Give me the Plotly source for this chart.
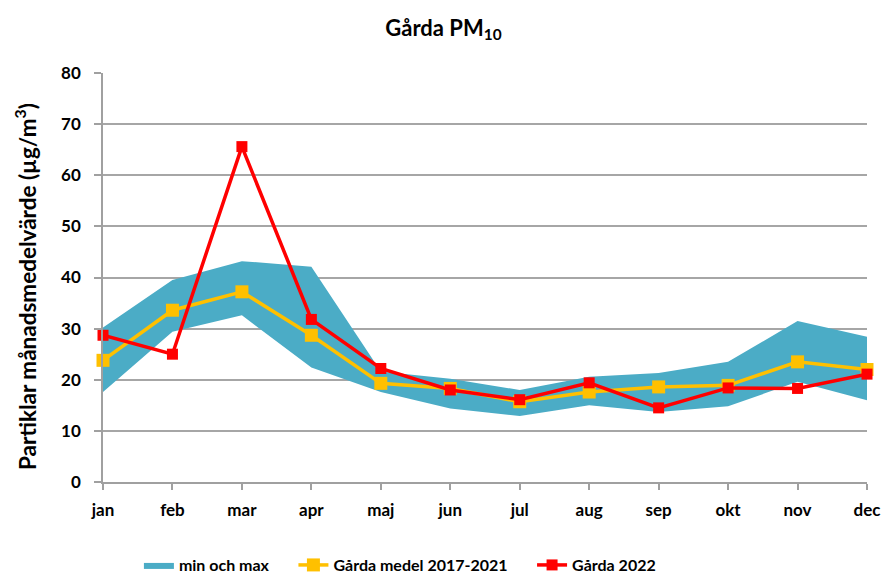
import plotly.graph_objects as go

months = ["jan", "feb", "mar", "apr", "maj", "jun", "jul", "aug", "sep", "okt", "nov", "dec"]
band_min = [17.6, 29.4, 32.6, 22.4, 17.6, 14.4, 12.9, 15.0, 13.7, 14.8, 19.6, 16.0]
band_max = [30.2, 39.5, 43.2, 42.1, 21.6, 20.2, 18.0, 20.6, 21.3, 23.5, 31.5, 28.4]
medel = [23.8, 33.6, 37.2, 28.7, 19.3, 18.3, 15.7, 17.6, 18.6, 18.9, 23.5, 22.0]
y2022 = [28.7, 25.0, 65.6, 31.8, 22.2, 18.0, 16.1, 19.4, 14.5, 18.4, 18.3, 21.1]
y_ticks = [0, 10, 20, 30, 40, 50, 60, 70, 80]

FONT = "Lato"
PAD = "\u00a0" * 5
fig = go.Figure()
fig.add_trace(go.Scatter(x=months, y=band_min, mode="lines", line=dict(width=0, color="#4BACC6"),
                         showlegend=False, hoverinfo="skip"))
fig.add_trace(go.Scatter(x=months, y=band_max, mode="lines", line=dict(width=0, color="#4BACC6"),
                         fill="tonexty", fillcolor="#4BACC6", name="min och max" + PAD))
fig.add_trace(go.Scatter(x=months, y=medel, mode="lines+markers", name="Gårda medel 2017-2021" + PAD,
                         line=dict(color="#FFC000", width=3.5),
                         marker=dict(symbol="square", size=13, color="#FFC000"), cliponaxis=False))
fig.add_trace(go.Scatter(x=months, y=y2022, mode="lines+markers", name="Gårda 2022",
                         line=dict(color="#FF0000", width=3.5),
                         marker=dict(symbol="square", size=11, color="#FF0000"), cliponaxis=False))

fig.update_layout(
    width=887, height=574,
    paper_bgcolor="white", plot_bgcolor="white",
    margin=dict(l=103, r=20, t=73, b=92, autoexpand=False),
    font=dict(family=FONT, size=17, color="#000000"),
    title=dict(text="<b>Gårda PM<sub>10</sub></b>", x=0.5, xanchor="center", y=0.951, yanchor="middle",
               font=dict(family=FONT, size=22, color="#000000")),
    xaxis=dict(type="category", range=[0, 11], showgrid=False, showline=True, linecolor="#A0A0A0", linewidth=1.5,
               ticks="outside", ticklen=6, tickcolor="#A0A0A0", tickwidth=1.5, automargin=False,
               ticklabelstandoff=6,
               tickfont=dict(family=FONT, size=17, color="#000000", weight="bold"), zeroline=False),
    yaxis=dict(range=[0, 80], tickvals=y_ticks, showgrid=True, gridcolor="#A6A6A6", gridwidth=1.5,
               showline=True, linecolor="#A0A0A0", linewidth=1.5, ticks="outside", ticklen=7,
               tickcolor="#A0A0A0", tickwidth=1.5, zeroline=False, automargin=False,
               ticklabelstandoff=10,
               tickfont=dict(family=FONT, size=17, color="#000000", weight="bold")),
    annotations=[dict(text="<b>Partiklar månadsmedelvärde (µg/m<sup>3</sup>)</b>", textangle=-90,
                      xref="paper", yref="paper", x=-0.102, y=0.477, xanchor="center", yanchor="middle",
                      showarrow=False, font=dict(family=FONT, size=22.5, color="#000000"))],
    legend=dict(orientation="h", x=0.047, xanchor="left", y=-0.203, yanchor="middle",
                font=dict(family=FONT, size=16, color="#000000", weight="bold"),
                itemwidth=30, traceorder="normal"),
)
fig.write_html("out.html", config={"displayModeBar": False},
               post_script="document.body.style.margin='0px';document.documentElement.style.overflow='hidden';")
